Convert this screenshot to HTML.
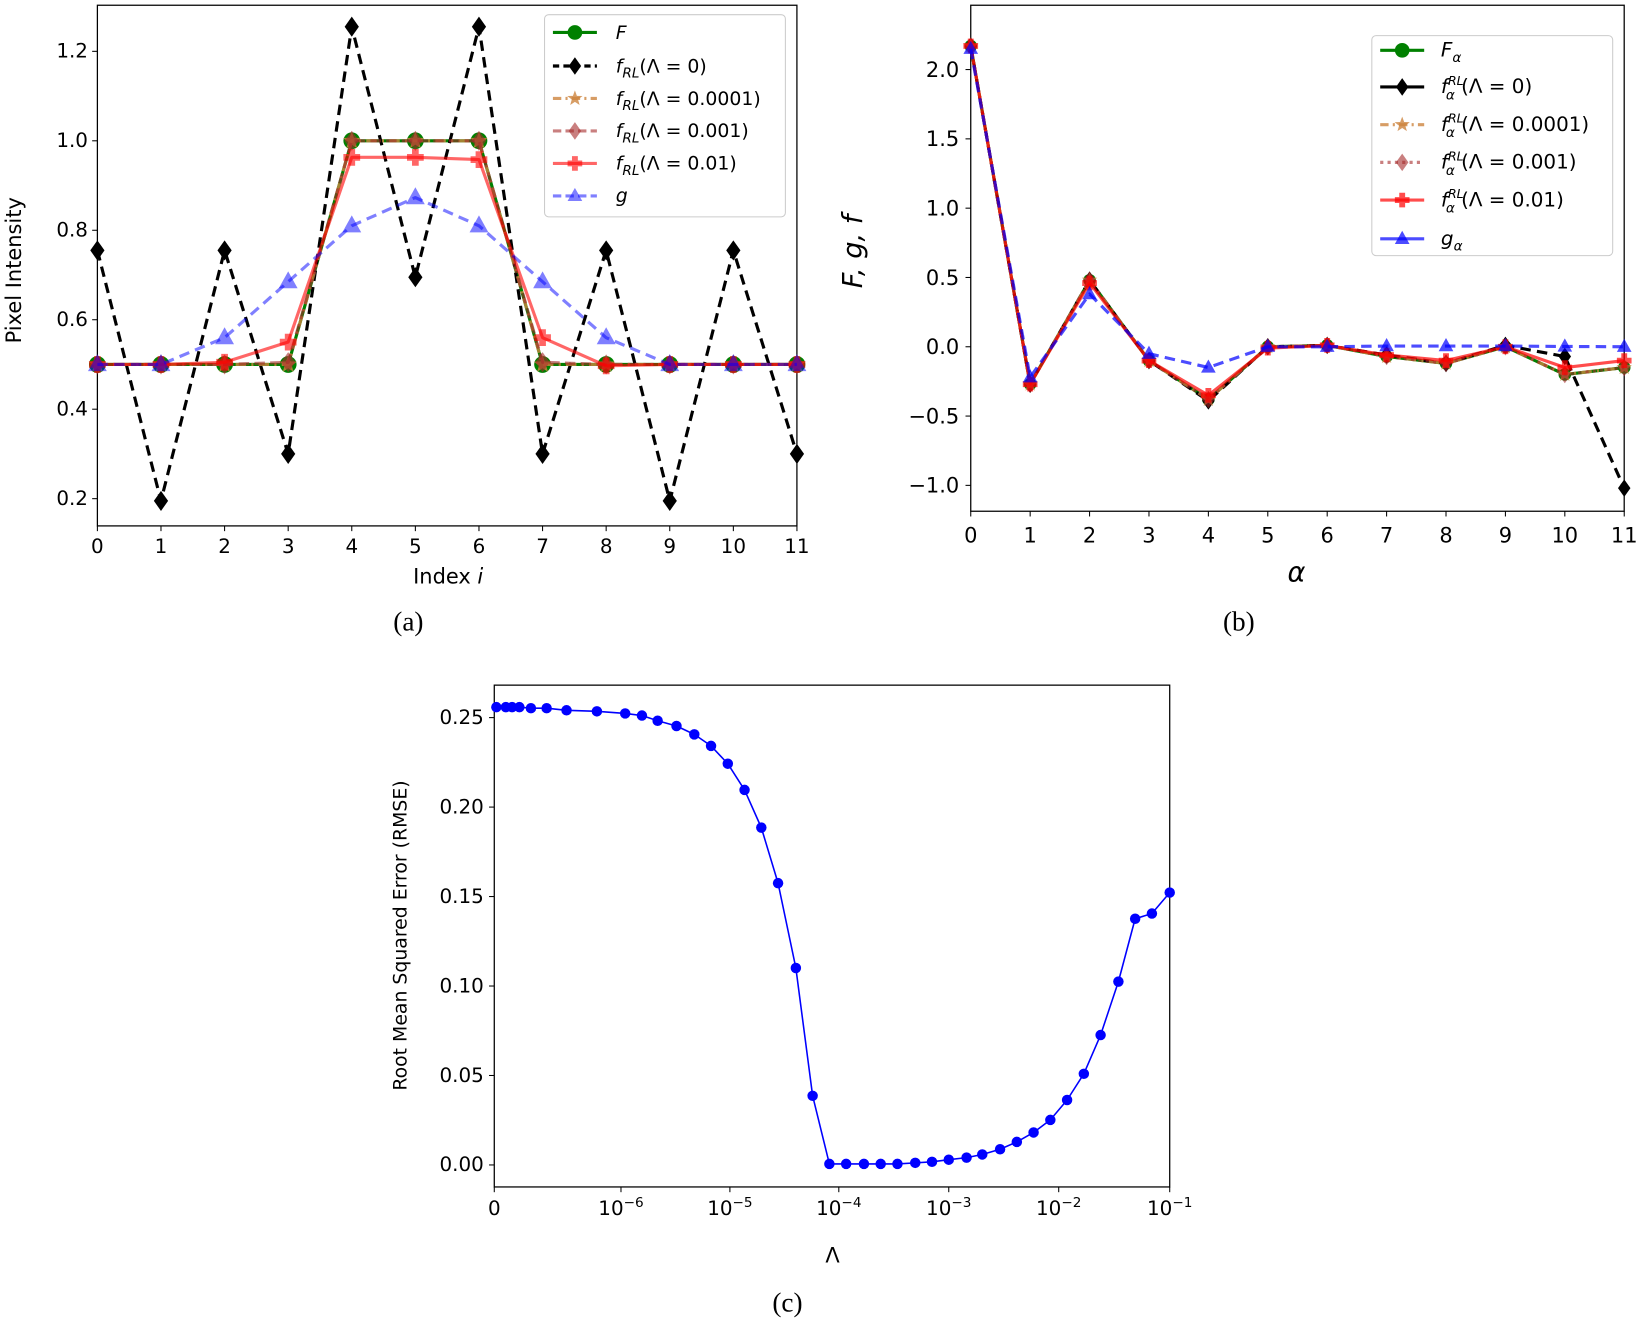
<!DOCTYPE html>
<html><head><meta charset="utf-8"><style>
html,body{margin:0;padding:0;background:#fff;}
svg{display:block;}
text{font-family:"DejaVu Sans","Liberation Sans",sans-serif;fill:#000;}
.cap{font-family:"Liberation Serif",serif;font-size:26px;}
</style></head><body>
<svg id="s" width="1642" height="1320" viewBox="0 0 1568 1260" preserveAspectRatio="none" xmlns="http://www.w3.org/2000/svg">
<rect width="1568" height="1260" fill="#fff"/>
<g id="g"></g>
</svg>
<script>
const NS="http://www.w3.org/2000/svg";const G=document.getElementById('g');
function el(t,a,txt){const e=document.createElementNS(NS,t);for(const k in a)e.setAttribute(k,a[k]);if(txt!==undefined)e.textContent=txt;G.appendChild(e);return e;}
function marker(type,x,y,c,op,sz){sz=sz||7;
 if(type=='o')el('circle',{cx:x,cy:y,r:sz,fill:c,'fill-opacity':op});
 else if(type=='D')el('polygon',{points:`${x},${y-sz*1.2} ${x+sz*0.85},${y} ${x},${y+sz*1.2} ${x-sz*0.85},${y}`,fill:c,'fill-opacity':op});
 else if(type=='^')el('polygon',{points:`${x},${y-sz*1.1} ${x+sz},${y+sz*0.7} ${x-sz},${y+sz*0.7}`,fill:c,'fill-opacity':op});
 else if(type=='*'){let p=[];for(let i=0;i<10;i++){let r=i%2?sz*0.45:sz*1.1,a=-Math.PI/2+i*Math.PI/5;p.push((x+r*Math.cos(a)).toFixed(1)+','+(y+r*Math.sin(a)).toFixed(1));}el('polygon',{points:p.join(' '),fill:c,'fill-opacity':op});}
 else if(type=='P'){const w=sz*0.4,L=sz;el('path',{d:`M${x-w},${y-L}h${2*w}v${L-w}h${L-w}v${2*w}h${-(L-w)}v${L-w}h${-2*w}v${-(L-w)}h${-(L-w)}v${-2*w}h${L-w}z`,fill:c,'fill-opacity':op});}
}
function series(xs,ys,c,op,dash,m,sw,sz){let pts=xs.map((x,i)=>x.toFixed(1)+','+ys[i].toFixed(1)).join(' ');
 el('polyline',{points:pts,fill:'none',stroke:c,'stroke-opacity':op,'stroke-width':sw||3,'stroke-dasharray':dash||'', 'stroke-linejoin':'round'});
 xs.forEach((x,i)=>marker(m,x,ys[i],c,op,sz));}
function legline(x,y,c,op,dash,m,sw){el('line',{x1:x,y1:y,x2:x+42,y2:y,stroke:c,'stroke-opacity':op,'stroke-width':sw||3,'stroke-dasharray':dash||''});marker(m,x+21,y,c,op,7);}
// ===== (a)
const ax=i=>93+i*60.73, ay=v=>476-(v-0.2)*427;
el('rect',{x:93,y:5,width:668,height:497,fill:'none',stroke:'#000','stroke-width':1.2});
const I=[...Array(12).keys()],XA=I.map(ax);
const F=[.5,.5,.5,.5,1,1,1,.5,.5,.5,.5,.5];
const f0=[.755,.195,.755,.3,1.255,.695,1.255,.3,.755,.195,.755,.3];
const f3=[.5,.5,.5,.505,1,1,1,.505,.5,.5,.5,.5];
const f2=[.5,.5,.505,.55,.963,.963,.958,.56,.497,.5,.5,.5];
const ga=[.5,.5,.56,.685,.81,.873,.81,.685,.56,.5,.5,.5];
series(XA,F.map(ay),'#008000',1,'','o',3,8);
series(XA,f0.map(ay),'#000',1,'10,6','D',3,8);
series(XA,F.map(ay),'#cd853f',0.8,'10,5,2,5','*',3,8);
series(XA,f3.map(ay),'#a52a2a',0.6,'10,5','D',3,8);
series(XA,f2.map(ay),'#ff0000',0.6,'','P',3,8);
series(XA,ga.map(ay),'#0000ff',0.5,'10,6','^',3,9);
[0.2,0.4,0.6,0.8,1.0,1.2].forEach(v=>{let y=ay(v);el('line',{x1:88,y1:y,x2:93,y2:y,stroke:'#000'});el('text',{x:84,y:y+6,'font-size':19,'text-anchor':'end'},v.toFixed(1));});
I.forEach(i=>{let x=ax(i);el('line',{x1:x,y1:502,x2:x,y2:507,stroke:'#000'});el('text',{x:x,y:528,'font-size':19,'text-anchor':'middle'},String(i));});
el('text',{x:428,y:557,'font-size':20,'text-anchor':'middle'},'Index ').innerHTML='Index <tspan font-style="italic">i</tspan>';
el('text',{x:20,y:258,'font-size':20,'text-anchor':'middle',transform:'rotate(-90 20 258)'},'Pixel Intensity');
el('rect',{x:520,y:14,width:230,height:193,rx:4,fill:'#fff','fill-opacity':0.85,stroke:'#ccc'});
const la=[[31,'#008000',1,'','o','<tspan font-style="italic">F</tspan>'],[63,'#000',1,'6,4','D','<tspan font-style="italic">f</tspan><tspan font-style="italic" font-size="13" dy="5">RL</tspan><tspan dy="-5">(Λ = 0)</tspan>'],[94,'#cd853f',.8,'8,4,2,4','*','<tspan font-style="italic">f</tspan><tspan font-style="italic" font-size="13" dy="5">RL</tspan><tspan dy="-5">(Λ = 0.0001)</tspan>'],[125,'#a52a2a',.6,'8,4','D','<tspan font-style="italic">f</tspan><tspan font-style="italic" font-size="13" dy="5">RL</tspan><tspan dy="-5">(Λ = 0.001)</tspan>'],[156,'#ff0000',.6,'','P','<tspan font-style="italic">f</tspan><tspan font-style="italic" font-size="13" dy="5">RL</tspan><tspan dy="-5">(Λ = 0.01)</tspan>'],[187,'#0000ff',.5,'8,4','^','<tspan font-style="italic">g</tspan>']];
la.forEach(r=>{legline(528,r[0],r[1],r[2],r[3],r[4]);el('text',{x:588,y:r[0]+6,'font-size':18}).innerHTML=r[5];});
el('text',{x:390,y:602,'class':'cap','text-anchor':'middle'},'(a)');
// ===== (b)
const bx=i=>927+i*56.73, by=v=>331-v*132.3, XB=I.map(bx);
el('rect',{x:927,y:5,width:624,height:483,fill:'none',stroke:'#000','stroke-width':1.2});
const Fb=[2.17,-.27,.48,-.1,-.38,0,.01,-.07,-.12,0,-.2,-.15];
const b0=[2.17,-.27,.48,-.1,-.39,0,.01,-.06,-.12,.01,-.07,-1.02];
const b2=[2.17,-.27,.46,-.1,-.35,-.01,.01,-.06,-.1,0,-.15,-.1];
const gb=[2.15,-.22,.38,-.05,-.15,0,0,.005,.005,.005,.002,0];
series(XB,Fb.map(by),'#008000',1,'','o',3,6);
series(XB,b0.map(by),'#000',1,'10,6','D',3,7);
series(XB,Fb.map(by),'#cd853f',0.8,'10,5,2,5','*',3,7);
series(XB,Fb.map(by),'#a52a2a',0.6,'3,4','D',3,7);
series(XB,b2.map(by),'#ff0000',0.7,'','P',3,7);
series(XB,gb.map(by),'#0000ff',0.7,'10,6','^',3,7);
[-1,-.5,0,.5,1,1.5,2].forEach(v=>{let y=by(v);el('line',{x1:922,y1:y,x2:927,y2:y,stroke:'#000'});el('text',{x:916,y:y+7,'font-size':20,'text-anchor':'end'},(v<0?'−':'')+Math.abs(v).toFixed(1));});
I.forEach(i=>{let x=bx(i);el('line',{x1:x,y1:488,x2:x,y2:493,stroke:'#000'});el('text',{x:x,y:518,'font-size':20,'text-anchor':'middle'},String(i));});
el('text',{x:1238,y:555,'font-size':26,'text-anchor':'middle','font-style':'italic'},'α');
el('text',{x:823,y:240,'font-size':26,'text-anchor':'middle','font-style':'italic',transform:'rotate(-90 823 240)'},'F, g, f');
el('rect',{x:1310,y:34,width:230,height:210,rx:4,fill:'#fff','fill-opacity':0.85,stroke:'#ccc'});
const fs='<tspan font-style="italic">f</tspan><tspan font-style="italic" font-size="12" dy="-8">RL</tspan><tspan font-style="italic" font-size="13" dx="-17" dy="14">α</tspan><tspan dy="-6" dx="6">';
const lb=[[48,'#008000',1,'','o','<tspan font-style="italic">F</tspan><tspan font-style="italic" font-size="13" dy="5">α</tspan>'],[83,'#000',1,'','D',fs+'(Λ = 0)</tspan>'],[119,'#cd853f',.8,'8,4,2,4','*',fs+'(Λ = 0.0001)</tspan>'],[155,'#a52a2a',.6,'3,4','D',fs+'(Λ = 0.001)</tspan>'],[191,'#ff0000',.7,'','P',fs+'(Λ = 0.01)</tspan>'],[228,'#0000ff',.7,'','^','<tspan font-style="italic">g</tspan><tspan font-style="italic" font-size="13" dy="5">α</tspan>']];
lb.forEach(r=>{legline(1318,r[0],r[1],r[2],r[3],r[4]);el('text',{x:1376,y:r[0]+6,'font-size':19}).innerHTML=r[5];});
el('text',{x:1183,y:602,'class':'cap','text-anchor':'middle'},'(b)');
// ===== (c)
el('rect',{x:472,y:654,width:645,height:479,fill:'none',stroke:'#000','stroke-width':1.2});
const pc=[[474,675],[483,675],[489,675],[496,675],[507,676],[522,676],[541,678],[570,679],[597,681],[613,683],[628,688],[646,693],[663,701],[679,712],[695,729],[711,754],[727,790],[743,843],[760,924],[776,1046],[792,1111],[808,1111],[825,1111],[841,1111],[857,1111],[874,1110],[890,1109],[906,1107],[923,1105],[938,1102],[955,1097],[971,1090],[987,1081],[1003,1069],[1019,1050],[1035,1025],[1051,988],[1068,937],[1084,877],[1100,872],[1117,852]];
series(pc.map(p=>p[0]),pc.map(p=>p[1]),'#0000ff',1,'','o',1.5,5);
[0,.05,.1,.15,.2,.25].forEach(v=>{let y=1112-v*1708;el('line',{x1:467,y1:y,x2:472,y2:y,stroke:'#000'});el('text',{x:462,y:y+6,'font-size':19,'text-anchor':'end'},v.toFixed(2));});
el('line',{x1:472,y1:1133,x2:472,y2:1138,stroke:'#000'});el('text',{x:472,y:1160,'font-size':19,'text-anchor':'middle'},'0');
[[593,'−6'],[697,'−5'],[801,'−4'],[906,'−3'],[1011,'−2'],[1117,'−1']].forEach(t=>{el('line',{x1:t[0],y1:1133,x2:t[0],y2:1138,stroke:'#000'});el('text',{x:t[0],y:1160,'font-size':19,'text-anchor':'middle'}).innerHTML='10<tspan font-size="13" dy="-8">'+t[1]+'</tspan>';});
el('text',{x:795,y:1205,'font-size':20,'text-anchor':'middle'},'Λ');
el('text',{x:388,y:893,'font-size':18,'text-anchor':'middle',transform:'rotate(-90 388 893)'},'Root Mean Squared Error (RMSE)');
el('text',{x:752,y:1252,'class':'cap','text-anchor':'middle'},'(c)');
</script>
</body></html>
